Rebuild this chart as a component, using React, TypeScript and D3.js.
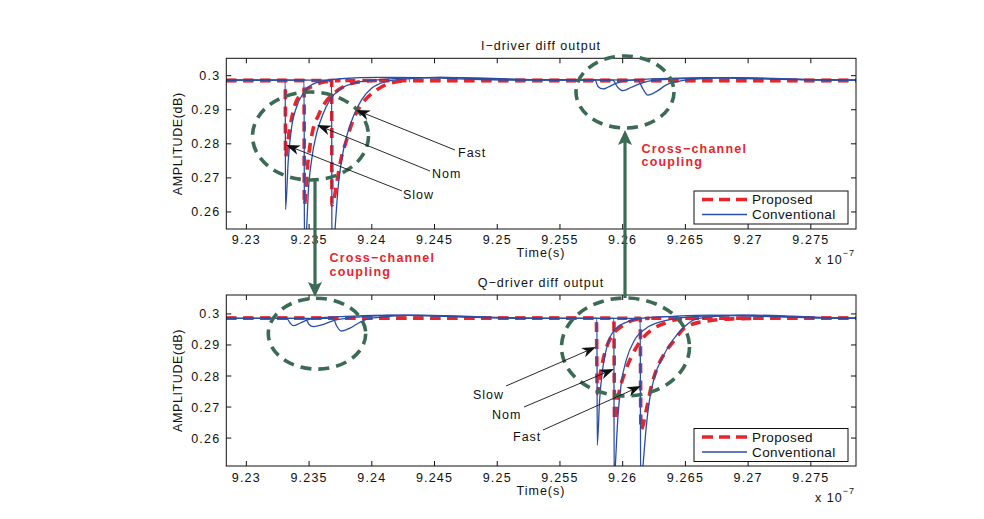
import React from 'react';
import * as d3 from 'd3';

type Pt = [number, number];

// ---------- axes / labels ----------
const xTickValues = [9.23, 9.235, 9.24, 9.245, 9.25, 9.255, 9.26, 9.265, 9.27, 9.275];
const xTickLabels = ['9.23', '9.235', '9.24', '9.245', '9.25', '9.255', '9.26', '9.265', '9.27', '9.275'];
const yTickValues = [0.26, 0.27, 0.28, 0.29, 0.3];
const yTickLabels = ['0.26', '0.27', '0.28', '0.29', '0.3'];
const xDomain: [number, number] = [9.2284, 9.2786];
const yDomainI: [number, number] = [0.255, 0.3051];
const yDomainQ: [number, number] = [0.251, 0.3061];
const seriesNames = ['Proposed', 'Conventional'];
const panelTitles = ['I\u2212driver diff output', 'Q\u2212driver diff output'];
const cornerNames = ['Slow', 'Nom', 'Fast'];
const couplingText = ['Cross\u2212channel', 'coupling'];
const xAxisLabel = 'Time(s)';
const yAxisLabel = 'AMPLITUDE(dB)';

// ---------- I-driver (top) ----------
const iPropSlow: Pt[] = [
  [9.2284, 0.2986], [9.2331, 0.2986], [9.23312, 0.2762], [9.23334, 0.2816], [9.23361, 0.2875],
  [9.23387, 0.2914], [9.2344, 0.2948], [9.2352, 0.2968], [9.23626, 0.2982], [9.2375, 0.2986], [9.2786, 0.2986],
];
const iPropNom: Pt[] = [
  [9.2284, 0.2986], [9.2346, 0.2986], [9.23462, 0.262], [9.2349, 0.2745], [9.23524, 0.283], [9.23576, 0.2885],
  [9.2363, 0.2922], [9.2371, 0.2952], [9.238, 0.2972], [9.2392, 0.2983], [9.2405, 0.2986], [9.2786, 0.2986],
];
const iPropFast: Pt[] = [
  [9.2284, 0.2986], [9.2368, 0.2986], [9.23682, 0.262], [9.237, 0.264], [9.23719, 0.2683], [9.23759, 0.2762],
  [9.23799, 0.2811], [9.23851, 0.287], [9.23905, 0.2909], [9.23971, 0.2938], [9.24038, 0.2958],
  [9.24144, 0.2978], [9.24303, 0.2986], [9.2786, 0.2986],
];
const iConvSlow: Pt[] = [
  [9.2284, 0.2987], [9.2331, 0.2987], [9.23312, 0.2607], [9.23334, 0.2752], [9.23361, 0.285], [9.23401, 0.2909],
  [9.23453, 0.2948], [9.2352, 0.2973], [9.23626, 0.2985], [9.2375, 0.2991], [9.2405, 0.2995], [9.244, 0.2994],
  [9.2475, 0.299], [9.252, 0.2987], [9.2578, 0.2987], [9.25803, 0.2968], [9.25843, 0.2961], [9.25882, 0.2966],
  [9.25936, 0.2976], [9.26, 0.2983], [9.2607, 0.2987], [9.2635, 0.2992], [9.2668, 0.2994], [9.2705, 0.2991],
  [9.2745, 0.2988], [9.2786, 0.2987],
];
const iConvNom: Pt[] = [
  [9.2284, 0.2987], [9.2346, 0.2987], [9.23463, 0.246], [9.2348, 0.2546], [9.23493, 0.2654], [9.2352, 0.2752],
  [9.2356, 0.2831], [9.23613, 0.2889], [9.23666, 0.2929], [9.23759, 0.2963], [9.23865, 0.2979], [9.24024, 0.2987],
  [9.2425, 0.2993], [9.2455, 0.2995], [9.2485, 0.2992], [9.2525, 0.2988], [9.2592, 0.2987], [9.2596, 0.2966],
  [9.26002, 0.2956], [9.26069, 0.2966], [9.26135, 0.2976], [9.262, 0.2983], [9.2628, 0.2987], [9.2655, 0.2992],
  [9.2685, 0.2994], [9.272, 0.2991], [9.2755, 0.2988], [9.2786, 0.2987],
];
const iConvFast: Pt[] = [
  [9.2284, 0.2987], [9.2368, 0.2987], [9.23682, 0.243], [9.23706, 0.2546], [9.23732, 0.2674], [9.23759, 0.2752],
  [9.23799, 0.2821], [9.23851, 0.2879], [9.23918, 0.2929], [9.23998, 0.2963], [9.24104, 0.2982], [9.2425, 0.299],
  [9.2455, 0.2995], [9.249, 0.2993], [9.253, 0.2988], [9.2612, 0.2987], [9.2616, 0.2962], [9.26201, 0.2943],
  [9.26268, 0.2953], [9.26348, 0.2973], [9.26427, 0.2982], [9.2655, 0.2989], [9.2685, 0.2994], [9.272, 0.2992],
  [9.2755, 0.2988], [9.2786, 0.2987],
];

// ---------- Q-driver (bottom) ----------
const qPropSlow: Pt[] = [
  [9.2284, 0.2986], [9.2579, 0.2986], [9.25797, 0.2744], [9.25824, 0.2814], [9.25856, 0.2873], [9.25909, 0.2927],
  [9.25989, 0.2959], [9.26095, 0.2981], [9.26214, 0.2986], [9.2786, 0.2986],
];
const qPropNom: Pt[] = [
  [9.2284, 0.2986], [9.2593, 0.2986], [9.25935, 0.2658], [9.2597, 0.2745], [9.26015, 0.2809], [9.26069, 0.2862],
  [9.26148, 0.2916], [9.26228, 0.2948], [9.26334, 0.297], [9.26467, 0.2984], [9.26613, 0.2986], [9.2786, 0.2986],
];
const qPropFast: Pt[] = [
  [9.2284, 0.2986], [9.2614, 0.2986], [9.26145, 0.2626], [9.26188, 0.269], [9.26228, 0.2766], [9.26268, 0.2819],
  [9.26334, 0.2873], [9.26414, 0.2916], [9.2648, 0.295], [9.266, 0.2972], [9.26876, 0.2984], [9.271, 0.2986],
  [9.2786, 0.2986],
];
const qConvSlow: Pt[] = [
  [9.2284, 0.2986], [9.23321, 0.2986], [9.2335, 0.297], [9.23374, 0.2962], [9.23427, 0.297], [9.2348, 0.298],
  [9.2356, 0.2986], [9.2385, 0.2993], [9.2415, 0.2996], [9.2445, 0.2994], [9.248, 0.2989], [9.252, 0.2986],
  [9.25795, 0.2986], [9.25797, 0.2577], [9.25816, 0.2723], [9.25843, 0.283], [9.25882, 0.29055], [9.25949, 0.2954],
  [9.26042, 0.2975], [9.26148, 0.2986], [9.264, 0.2992], [9.267, 0.2996], [9.2705, 0.2993], [9.2745, 0.2988],
  [9.2786, 0.2986],
];
const qConvNom: Pt[] = [
  [9.2284, 0.2986], [9.23467, 0.2986], [9.235, 0.2966], [9.23533, 0.2959], [9.236, 0.2965], [9.23706, 0.298],
  [9.238, 0.2986], [9.24, 0.2993], [9.2425, 0.2996], [9.2455, 0.2994], [9.249, 0.2989], [9.253, 0.2986],
  [9.2593, 0.2986], [9.25932, 0.244], [9.25941, 0.2507], [9.25962, 0.2669], [9.25989, 0.2777], [9.26029, 0.2852],
  [9.26095, 0.2916], [9.26188, 0.2954], [9.26308, 0.2975], [9.2644, 0.2986], [9.2665, 0.2993], [9.2695, 0.2996],
  [9.2725, 0.2992], [9.276, 0.2987], [9.2786, 0.2986],
];
const qConvFast: Pt[] = [
  [9.2284, 0.2986], [9.23692, 0.2986], [9.23719, 0.2962], [9.23759, 0.2945], [9.23825, 0.2954], [9.23891, 0.297],
  [9.2397, 0.2984], [9.241, 0.2991], [9.2435, 0.2996], [9.2465, 0.2994], [9.25, 0.2989], [9.254, 0.2986],
  [9.2614, 0.2986], [9.26143, 0.243], [9.26161, 0.2507], [9.26188, 0.2637], [9.26214, 0.2723], [9.26254, 0.2798],
  [9.2632, 0.2862], [9.264, 0.2916], [9.26493, 0.2959], [9.26573, 0.2982], [9.2675, 0.2992], [9.2705, 0.2996],
  [9.2735, 0.2993], [9.2765, 0.2988], [9.2786, 0.2987],
];

// ---------- styles ----------
const RED = '#e8252b';
const BLUE = '#2a4da6';
const GREEN = '#3b6b55';
const INK = '#111111';
const FONT = '"Liberation Sans", Arial, Helvetica, sans-serif';
const DASH_ON = 10;
const DASH_OFF = 7;

type Box = { x0: number; x1: number; y0: number; y1: number };

function headPath(tipX: number, tipY: number, fromX: number, fromY: number, len: number, halfW: number, notch: number) {
  const a = Math.atan2(tipY - fromY, tipX - fromX);
  const ux = Math.cos(a), uy = Math.sin(a);
  const px = -uy, py = ux;
  const bx = tipX - ux * len, by = tipY - uy * len;
  const nx = tipX - ux * (len - notch), ny = tipY - uy * (len - notch);
  return {
    d: `M${tipX},${tipY}L${bx + px * halfW},${by + py * halfW}L${nx},${ny}L${bx - px * halfW},${by - py * halfW}Z`,
    nx, ny,
  };
}

function Arrow({ from, tip, color, width, len, halfW, notch }: { from: [number, number]; tip: [number, number]; color: string; width: number; len: number; halfW: number; notch: number }) {
  const h = headPath(tip[0], tip[1], from[0], from[1], len, halfW, notch);
  return (
    <g>
      <line x1={from[0]} y1={from[1]} x2={h.nx} y2={h.ny} stroke={color} strokeWidth={width} />
      <path d={h.d} fill={color} stroke="none" />
    </g>
  );
}

// split a series into its excursion part and the final flat tail, so the
// dash phase of the flat tail is anchored to absolute x (like MATLAB's look)
function splitTail(s: Pt[]): [Pt[], Pt[]] {
  const last = s[s.length - 1][1];
  let i = s.length - 1;
  while (i > 0 && s[i - 1][1] === last) i--;
  return [s.slice(0, i + 1), s.slice(i)];
}

function Panel({ id, box, yDomain, title, proposed, conventional, titleY, tickLabelY, xLabelY, expY, legendY }: {
  id: string; box: Box; yDomain: [number, number]; title: string; proposed: Pt[][]; conventional: Pt[][];
  titleY: number; tickLabelY: number; xLabelY: number; expY: number; legendY: number;
}) {
  const x = d3.scaleLinear().domain(xDomain).range([box.x0, box.x1]);
  const y = d3.scaleLinear().domain(yDomain).range([box.y1, box.y0]);
  const line = d3.line<Pt>().x((d) => x(d[0])).y((d) => y(d[1])).curve(d3.curveMonotoneX);
  const tickLen = 5;
  const lx = 694, lw = 154, lh = 33;
  const period = DASH_ON + DASH_OFF;
  return (
    <g>
      <defs>
        <clipPath id={id}>
          <rect x={box.x0} y={box.y0} width={box.x1 - box.x0} height={box.y1 - box.y0} />
        </clipPath>
      </defs>
      <rect x={box.x0} y={box.y0} width={box.x1 - box.x0} height={box.y1 - box.y0} fill="#fff" />
      <g clipPath={`url(#${id})`}>
        {proposed.map((s, i) => {
          const [head, tail] = splitTail(s);
          const off = (x(tail[0][0]) - box.x0) % period;
          return (
            <g key={'p' + i}>
              <path d={line(head) || ''} fill="none" stroke={RED} strokeWidth={3.6} strokeDasharray={`${DASH_ON} ${DASH_OFF}`} />
              <path d={line(tail) || ''} fill="none" stroke={RED} strokeWidth={3.6} strokeDasharray={`${DASH_ON} ${DASH_OFF}`} strokeDashoffset={off} />
            </g>
          );
        })}
        {conventional.map((s, i) => (
          <path key={'c' + i} d={line(s) || ''} fill="none" stroke={BLUE} strokeWidth={1.3} />
        ))}
      </g>
      <rect x={box.x0} y={box.y0} width={box.x1 - box.x0} height={box.y1 - box.y0} fill="none" stroke={INK} strokeWidth={1} />
      {xTickValues.map((t, i) => (
        <g key={'xt' + i}>
          <line x1={x(t)} x2={x(t)} y1={box.y1} y2={box.y1 - tickLen} stroke={INK} strokeWidth={1} />
          <line x1={x(t)} x2={x(t)} y1={box.y0} y2={box.y0 + tickLen} stroke={INK} strokeWidth={1} />
          <text x={x(t)} y={tickLabelY} textAnchor="middle" fontSize={12.5} letterSpacing={1.2} fill={INK}>{xTickLabels[i]}</text>
        </g>
      ))}
      {yTickValues.map((v, i) => (
        <g key={'yt' + i}>
          <line x1={box.x0} x2={box.x0 + tickLen} y1={y(v)} y2={y(v)} stroke={INK} strokeWidth={1} />
          <line x1={box.x1} x2={box.x1 - tickLen} y1={y(v)} y2={y(v)} stroke={INK} strokeWidth={1} />
          <text x={box.x0 - 6} y={y(v) + 4.5} textAnchor="end" fontSize={12.5} letterSpacing={1.2} fill={INK}>{yTickLabels[i]}</text>
        </g>
      ))}
      <text x={541} y={titleY} textAnchor="middle" fontSize={12.5} letterSpacing={1} fill={INK}>{title}</text>
      <text x={541} y={xLabelY} textAnchor="middle" fontSize={12.5} letterSpacing={1} fill={INK}>{xAxisLabel}</text>
      <text x={815} y={expY} fontSize={12.5} letterSpacing={1} fill={INK}>
        x 10<tspan dy={-8} fontSize={9}>{'\u22127'}</tspan>
      </text>
      <text transform={`translate(181.5,${(box.y0 + box.y1) / 2}) rotate(-90)`} textAnchor="middle" fontSize={12.5} letterSpacing={0.6} fill={INK}>{yAxisLabel}</text>
      <rect x={lx} y={legendY} width={lw} height={lh} fill="#fff" stroke={INK} strokeWidth={1} />
      <line x1={702} x2={747} y1={legendY + 8.5} y2={legendY + 8.5} stroke={RED} strokeWidth={3.6} strokeDasharray="11 6" />
      <line x1={702} x2={747} y1={legendY + 23.5} y2={legendY + 23.5} stroke={BLUE} strokeWidth={1.5} />
      <text x={752} y={legendY + 13.3} fontSize={13.5} letterSpacing={0.4} fill={INK}>{seriesNames[0]}</text>
      <text x={752} y={legendY + 28.3} fontSize={13.5} letterSpacing={0.4} fill={INK}>{seriesNames[1]}</text>
    </g>
  );
}

export default function App() {
  const topBox: Box = { x0: 226.3, x1: 856, y0: 58.3, y1: 229 };
  const botBox: Box = { x0: 226.3, x1: 856, y0: 295, y1: 466 };
  const ellipseStyle = { fill: 'none', stroke: GREEN, strokeWidth: 3.6, strokeDasharray: '11 7' };
  const blackArrow = { color: INK, width: 0.9, len: 14, halfW: 5, notch: 4 };
  const greenArrow = { color: GREEN, width: 3.2, len: 15, halfW: 7, notch: 3 };
  const txt = { fontSize: 12.5, letterSpacing: 1, fill: INK };
  const redTxt = { fontSize: 12.5, letterSpacing: 1.2, fill: RED, fontWeight: 700 as const };
  return (
    <svg width={984} height={519} style={{ position: 'absolute', left: 0, top: 0, background: '#fff' }} fontFamily={FONT}>
      <rect x={0} y={0} width={984} height={519} fill="#fff" />
      <Panel id="clipI" box={topBox} yDomain={yDomainI} title={panelTitles[0]}
        proposed={[iPropSlow, iPropNom, iPropFast]} conventional={[iConvSlow, iConvNom, iConvFast]}
        titleY={49.5} tickLabelY={243.8} xLabelY={257.2} expY={263.8} legendY={191} />
      <Panel id="clipQ" box={botBox} yDomain={yDomainQ} title={panelTitles[1]}
        proposed={[qPropSlow, qPropNom, qPropFast]} conventional={[qConvSlow, qConvNom, qConvFast]}
        titleY={287} tickLabelY={481.5} xLabelY={494.5} expY={501.8} legendY={428.5} />

      {/* ellipses */}
      <ellipse cx={310.5} cy={136} rx={58} ry={44} {...ellipseStyle} />
      <ellipse cx={625} cy={92} rx={49} ry={36} {...ellipseStyle} />
      <ellipse cx={317} cy={333.7} rx={48.7} ry={35.4} {...ellipseStyle} />
      <ellipse cx={625.5} cy={347} rx={64} ry={49} {...ellipseStyle} />

      {/* green arrows */}
      <Arrow from={[315, 180]} tip={[315, 297]} {...greenArrow} />
      <Arrow from={[625, 298]} tip={[625, 130]} {...greenArrow} />

      {/* coupling labels */}
      <text x={641.5} y={152.5} {...redTxt}>{couplingText[0]}</text>
      <text x={641.5} y={166} {...redTxt}>{couplingText[1]}</text>
      <text x={329.5} y={262.3} {...redTxt}>{couplingText[0]}</text>
      <text x={329.5} y={276} {...redTxt}>{couplingText[1]}</text>

      {/* top corner arrows */}
      <Arrow from={[455, 150]} tip={[356, 110]} {...blackArrow} />
      <Arrow from={[430, 171]} tip={[317, 125]} {...blackArrow} />
      <Arrow from={[402, 191]} tip={[286, 145]} {...blackArrow} />
      <text x={458} y={156.5} {...txt}>{cornerNames[2]}</text>
      <text x={432} y={177.5} {...txt}>{cornerNames[1]}</text>
      <text x={403} y={198.5} {...txt}>{cornerNames[0]}</text>

      {/* bottom corner arrows */}
      <Arrow from={[506, 386]} tip={[596, 347]} {...blackArrow} />
      <Arrow from={[524, 407]} tip={[614, 369]} {...blackArrow} />
      <Arrow from={[543, 430]} tip={[641, 386]} {...blackArrow} />
      <text x={473} y={398.5} {...txt}>{cornerNames[0]}</text>
      <text x={492} y={418.5} {...txt}>{cornerNames[1]}</text>
      <text x={513} y={441} {...txt}>{cornerNames[2]}</text>
    </svg>
  );
}
